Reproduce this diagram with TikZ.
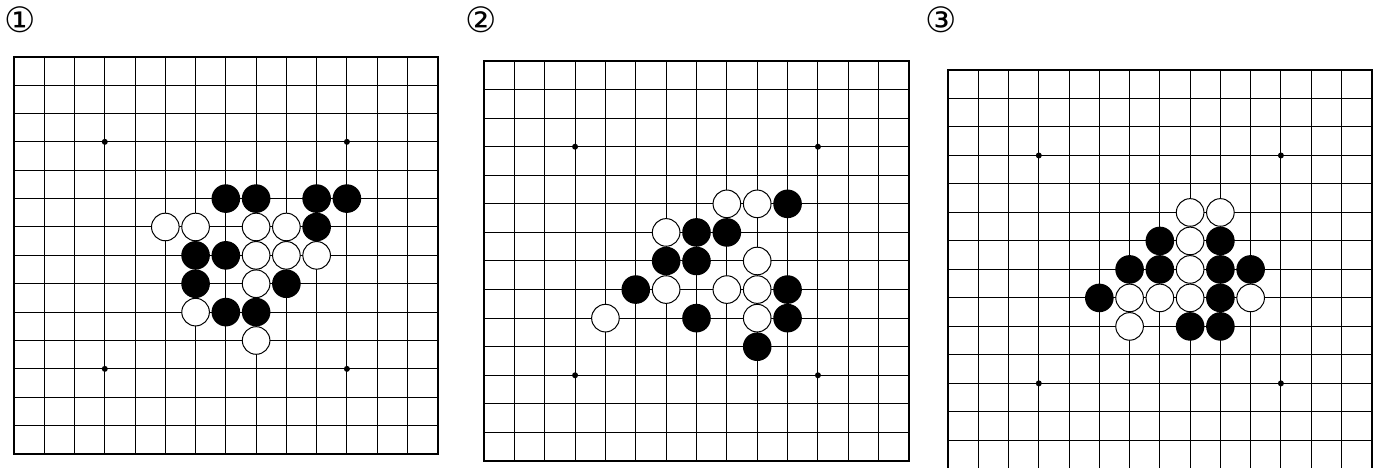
\documentclass[tikz,border=0pt]{standalone}
\usepackage{fontspec}
\newfontfamily\symfont{DejaVu Sans}
\tikzset{
  gridline/.style={line width=1pt,draw=black},
  boardedge/.style={line width=2.2pt,draw=black},
  blackstone/.style={fill=black},
  whitestone/.style={fill=white,draw=black,line width=1pt},
  lbl/.style={font=\symfont\fontsize{35}{35}\selectfont,inner sep=0pt}
}
\newcommand\drawboard[6]{%
  \begin{scope}[shift={(#1,#2)}]
    \foreach \i in {1,...,13} {
      \draw[gridline] (\i*#3,0) -- (\i*#3,14*#4);
      \draw[gridline] (0,\i*#4) -- (14*#3,\i*#4);
    }
    \draw[boardedge] (0,0) rectangle (14*#3,14*#4);
    \foreach \c/\r in {3/3,11/3,3/11,11/11} \fill (\c*#3,\r*#4) circle (3);
    \foreach \c/\r in {#5} \fill[blackstone] (\c*#3,\r*#4) circle (14.3);
    \foreach \c/\r in {#6} \filldraw[whitestone] (\c*#3,\r*#4) circle (13.8);
  \end{scope}}
\begin{document}
\begin{tikzpicture}[x=1pt,y=-1pt]
\useasboundingbox (0,0) rectangle (1381,468);
\clip (0,0) rectangle (1381,468);
\fill[white] (0,0) rectangle (1381,468);
\node[lbl] (l1) at (19.7,20.2) {①};
\node[lbl] (l2) at (481,20.2) {②};
\node[lbl] (l3) at (941,20.2) {③};
\drawboard{14}{56.7}{30.264}{28.38}%
  {7/5,8/5,10/5,11/5,10/6,6/7,7/7,6/8,9/8,7/9,8/9}%
  {5/6,6/6,8/6,9/6,8/7,9/7,10/7,8/8,6/9,8/10}
\drawboard{484}{61}{30.357}{28.571}%
  {10/5,7/6,8/6,6/7,7/7,5/8,10/8,7/9,10/9,9/10}%
  {8/5,9/5,6/6,9/7,6/8,8/8,9/8,4/9,9/9}
\drawboard{948}{70}{30.264}{28.49}%
  {7/6,9/6,6/7,7/7,9/7,10/7,5/8,9/8,8/9,9/9}%
  {8/5,9/5,8/6,8/7,6/8,7/8,8/8,10/8,6/9}
\end{tikzpicture}
\end{document}
